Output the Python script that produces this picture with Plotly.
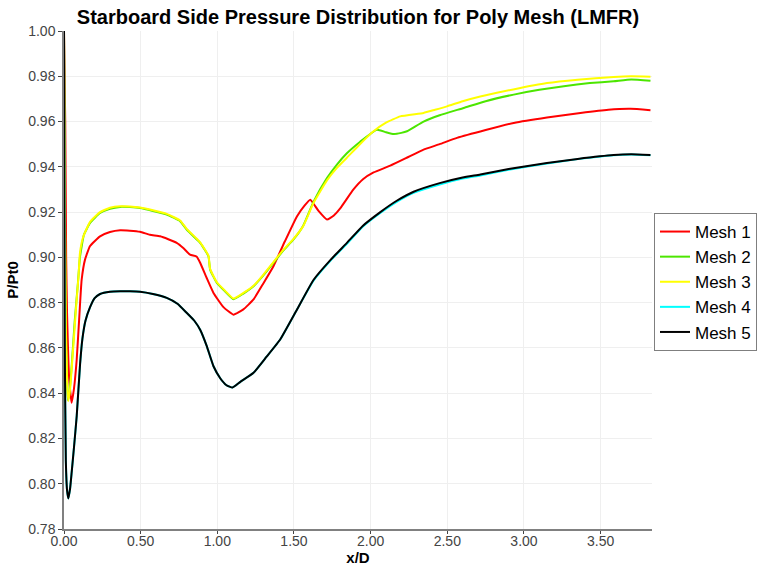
import plotly.graph_objects as go

# ---------------- data ----------------
mesh1_x = [0.0, 0.008, 0.014, 0.02, 0.035, 0.05, 0.065, 0.083, 0.1, 0.115, 0.137, 0.17, 0.235, 0.3, 0.366,
           0.43, 0.496, 0.56, 0.627, 0.68, 0.735, 0.78, 0.822, 0.866, 0.888, 0.93, 0.975, 1.04, 1.105,
           1.17, 1.236, 1.3, 1.366, 1.44, 1.519, 1.57, 1.606, 1.66, 1.715, 1.76, 1.8, 1.888, 1.95,
           2.019, 2.128, 2.23, 2.345, 2.45, 2.563, 2.75, 2.933, 3.15, 3.368, 3.55, 3.695, 3.825]
mesh1_y = [1.0, 0.96, 0.9, 0.875, 0.845, 0.8358, 0.842, 0.855, 0.874, 0.89, 0.899, 0.905, 0.9093, 0.9112, 0.912,
           0.9118, 0.9113, 0.91, 0.9093, 0.908, 0.9064, 0.904, 0.9012, 0.9003, 0.8976, 0.891, 0.8843, 0.878, 0.8747,
           0.877, 0.8814, 0.8885, 0.8961, 0.907, 0.9181, 0.923, 0.9255, 0.9205, 0.9167, 0.9185, 0.9215, 0.93, 0.9345,
           0.9375, 0.9405, 0.9438, 0.9476, 0.95, 0.9528, 0.9563, 0.9594, 0.9618, 0.9638, 0.9652, 0.9656, 0.965]

mesh2_x = [0.0, 0.005, 0.012, 0.02, 0.025, 0.035, 0.05, 0.07, 0.09, 0.104, 0.13, 0.17, 0.235, 0.3, 0.366,
           0.43, 0.496, 0.58, 0.67, 0.757, 0.8, 0.866, 0.888, 0.942, 0.953, 0.997, 1.05, 1.105, 1.17,
           1.236, 1.3, 1.366, 1.43, 1.497, 1.56, 1.627, 1.715, 1.78, 1.845, 1.93, 2.04, 2.1, 2.15, 2.2,
           2.237, 2.345, 2.45, 2.607, 2.75, 2.933, 3.1, 3.26, 3.43, 3.585, 3.7, 3.825]
mesh2_y = [1.0, 0.93, 0.87, 0.845, 0.837, 0.84, 0.852, 0.872, 0.888, 0.9, 0.91, 0.9152, 0.9196, 0.9215, 0.9223,
           0.9222, 0.9218, 0.9205, 0.9189, 0.916, 0.9123, 0.9079, 0.9064, 0.9005, 0.8946, 0.8887, 0.885, 0.8815, 0.884,
           0.8872, 0.892, 0.8976, 0.903, 0.9079, 0.914, 0.9245, 0.935, 0.941, 0.946, 0.951, 0.9564, 0.9553, 0.9545, 0.955,
           0.9557, 0.96, 0.9628, 0.966, 0.969, 0.9719, 0.974, 0.9756, 0.977, 0.9778, 0.9786, 0.978]

mesh3_x = [0.0, 0.005, 0.012, 0.02, 0.028, 0.04, 0.06, 0.08, 0.095, 0.104, 0.125, 0.17, 0.235, 0.3, 0.366,
           0.43, 0.496, 0.58, 0.67, 0.757, 0.8, 0.866, 0.888, 0.942, 0.953, 0.997, 1.05, 1.105, 1.17,
           1.236, 1.3, 1.366, 1.43, 1.497, 1.56, 1.627, 1.715, 1.78, 1.845, 1.93, 2.019, 2.1, 2.193,
           2.345, 2.42, 2.498, 2.6, 2.715, 2.93, 3.15, 3.35, 3.585, 3.7, 3.825]
mesh3_y = [1.0, 0.93, 0.87, 0.845, 0.8365, 0.842, 0.86, 0.879, 0.892, 0.902, 0.909, 0.9157, 0.92, 0.9219, 0.9226,
           0.9225, 0.922, 0.9208, 0.9192, 0.9163, 0.9126, 0.9082, 0.9066, 0.9008, 0.8949, 0.889, 0.8853, 0.8818, 0.8843,
           0.8875, 0.8923, 0.8979, 0.9033, 0.9082, 0.9138, 0.924, 0.934, 0.9395, 0.944, 0.95, 0.9557, 0.9595, 0.9623,
           0.9638, 0.9652, 0.9667, 0.969, 0.9711, 0.9742, 0.977, 0.9785, 0.9797, 0.98, 0.9798]

mesh5_x = [0.0, 0.005, 0.012, 0.02, 0.028, 0.04, 0.05, 0.065, 0.083, 0.105, 0.12, 0.14, 0.17, 0.2, 0.235,
           0.3, 0.366, 0.43, 0.496, 0.58, 0.67, 0.74, 0.8, 0.85, 0.888, 0.93, 0.975, 1.02, 1.06, 1.099,
           1.15, 1.236, 1.32, 1.41, 1.52, 1.627, 1.74, 1.845, 1.95, 2.063, 2.17, 2.28, 2.45, 2.6, 2.715,
           2.9, 3.15, 3.35, 3.585, 3.7, 3.825]
mesh5_y = [1.0, 0.86, 0.81, 0.797, 0.7935, 0.798, 0.805, 0.816, 0.83, 0.853, 0.864, 0.872, 0.878, 0.882, 0.8838,
           0.8848, 0.885, 0.885, 0.8848, 0.8838, 0.8821, 0.8795, 0.8755, 0.872, 0.868, 0.861, 0.8519, 0.8465, 0.8435, 0.8425,
           0.845, 0.849, 0.856, 0.8637, 0.877, 0.89, 0.899, 0.9064, 0.914, 0.92, 0.925, 0.929, 0.9328, 0.9353, 0.9366,
           0.939, 0.9417, 0.9435, 0.9452, 0.9455, 0.9452]

mesh4_x = list(mesh5_x)
mesh4_y = [1.0, 0.86, 0.81, 0.797, 0.7935, 0.798, 0.805, 0.816, 0.83, 0.853, 0.864, 0.872, 0.878, 0.882, 0.8838,
           0.8848, 0.885, 0.885, 0.8848, 0.8838, 0.8821, 0.8795, 0.8755, 0.872, 0.868, 0.861, 0.8519, 0.8465, 0.8435, 0.8425,
           0.845, 0.849, 0.856, 0.8637, 0.877, 0.8897, 0.8987, 0.906, 0.9136, 0.9196, 0.9245, 0.9285, 0.9322, 0.9348, 0.9362,
           0.9387, 0.9415, 0.9434, 0.9451, 0.9454, 0.9451]

series_names = ["Mesh 1", "Mesh 2", "Mesh 3", "Mesh 4", "Mesh 5"]
series_x = [mesh1_x, mesh2_x, mesh3_x, mesh4_x, mesh5_x]
series_y = [mesh1_y, mesh2_y, mesh3_y, mesh4_y, mesh5_y]
series_colors = ["#ff0000", "#4ce600", "#ffff00", "#00ffff", "#000000"]

x_ticks = [0.0, 0.5, 1.0, 1.5, 2.0, 2.5, 3.0, 3.5]
y_ticks = [0.78, 0.80, 0.82, 0.84, 0.86, 0.88, 0.90, 0.92, 0.94, 0.96, 0.98, 1.00]

# ---------------- figure ----------------
fig = go.Figure()
for name, xs, ys, col in zip(series_names, series_x, series_y, series_colors):
    fig.add_trace(go.Scatter(x=xs, y=ys, mode="lines", name=name,
                             line=dict(color=col, width=2, shape="spline", smoothing=0.4)))

axis_font = dict(family="Liberation Sans, Arial, sans-serif", size=14, color="#444444")
fig.update_layout(
    width=758, height=568,
    margin=dict(l=64, r=106, t=31, b=39, autoexpand=False),
    paper_bgcolor="white", plot_bgcolor="white",
    title=dict(text="<b>Starboard Side Pressure Distribution for Poly Mesh (LMFR)</b>",
               x=0.5, xref="paper", xanchor="center", y=1 - 17 / 568, yanchor="middle",
               font=dict(family="Liberation Sans, Arial, sans-serif", size=20, color="black")),
    showlegend=True,
    legend=dict(x=654 / 758, xref="container", xanchor="left",
                y=1 - 213 / 568, yref="container", yanchor="top",
                bgcolor="white", bordercolor="#7f7f7f", borderwidth=1,
                font=dict(family="Liberation Sans, Arial, sans-serif", size=17, color="black"),
                itemwidth=30, tracegroupgap=0),
)
fig.update_xaxes(range=[0, 3.835], tickvals=x_ticks, tickformat=".2f", automargin=False,
                 showgrid=True, gridcolor="#efefef", gridwidth=1, zeroline=False,
                 showline=True, linecolor="#808080", linewidth=1.5,
                 ticks="outside", ticklen=3, tickcolor="#444444",
                 ticklabelstandoff=-5,
                 tickfont=axis_font,
                 title=dict(text="<b>x/D</b>", standoff=3,
                            font=dict(family="Liberation Sans, Arial, sans-serif", size=15, color="black")))
fig.update_yaxes(range=[0.78, 1.0], tickvals=y_ticks, tickformat=".2f", automargin=False,
                 showgrid=True, gridcolor="#efefef", gridwidth=1, zeroline=False,
                 showline=True, linecolor="#808080", linewidth=1.5,
                 ticks="outside", ticklen=4, tickcolor="#444444",
                 tickfont=axis_font,
                 title=dict(text="<b>P/Pt0</b>", standoff=6,
                            font=dict(family="Liberation Sans, Arial, sans-serif", size=15, color="black")))

fig.write_html("out.html")
